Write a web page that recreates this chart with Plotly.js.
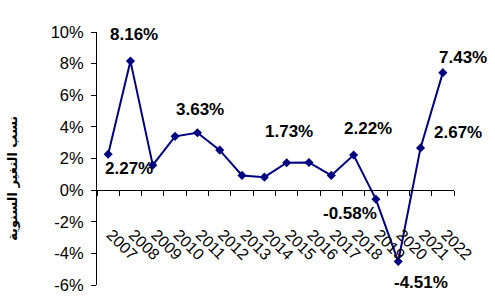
<!DOCTYPE html>
<html>
<head>
<meta charset="utf-8">
<script src="https://cdn.plot.ly/plotly-3.0.1.min.js"></script>
<style>html,body{margin:0;padding:0;background:#fff;}#chart{width:495px;height:308px;}</style>
</head>
<body>
<div id="chart"></div>
<script>
const years = ['2007','2008','2009','2010','2011','2012','2013','2014','2015','2016','2017','2018','2019','2020','2021','2022'];
const rates = [2.27, 8.16, 1.58, 3.40, 3.63, 2.53, 0.93, 0.82, 1.73, 1.75, 0.93, 2.22, -0.58, -4.51, 2.67, 7.43];
const labeledYears = ['2007','2008','2011','2015','2018','2019','2020','2021','2022'];
const yTickVals = [-6, -4, -2, 0, 2, 4, 6, 8, 10];
const yTickText = ['-6%', '-4%', '-2%', '0%', '2%', '4%', '6%', '8%', '10%'];
const yTitle = 'نسب التغير السنوية';

// label offsets (pixels) per labelled year — styling only
const offsets = {
  '2007': [21, 14], '2008': [4, -27], '2011': [3, -23], '2015': [2, -31],
  '2018': [14, -27], '2019': [-26, 14], '2020': [23, 21], '2021': [37, -15], '2022': [20, -15]
};

const annotations = labeledYears.map(y => {
  const i = years.indexOf(y);
  return {
    x: i, y: rates[i], xref: 'x', yref: 'y',
    text: '<b>' + rates[i].toFixed(2) + '%</b>',
    showarrow: false,
    xshift: offsets[y][0], yshift: -offsets[y][1],
    font: {family: 'Liberation Sans, Arial, sans-serif', size: 17, color: '#000'},
    xanchor: 'center', yanchor: 'middle'
  };
});
annotations.push({
  xref: 'paper', yref: 'paper', x: -0.235, y: 0.42,
  text: '<b>' + yTitle + '</b>', textangle: -90, showarrow: false,
  font: {family: 'DejaVu Sans, sans-serif', size: 13, color: '#000'},
  xanchor: 'center', yanchor: 'middle'
});

const trace = {
  x: years, y: rates, type: 'scatter', mode: 'lines+markers',
  line: {color: '#000080', width: 2},
  marker: {symbol: 'diamond', size: 7, color: '#000080'},
  cliponaxis: false, hoverinfo: 'skip'
};

const layout = {
  width: 495, height: 308,
  margin: {l: 97, r: 41, t: 32, b: 23},
  paper_bgcolor: '#fff', plot_bgcolor: '#fff',
  showlegend: false,
  font: {family: 'Liberation Sans, Arial, sans-serif', color: '#000'},
  xaxis: {
    type: 'category', range: [-0.5, 15.5],
    anchor: 'free', position: 0.375,
    showline: true, linecolor: '#000', linewidth: 1,
    ticks: 'outside', ticklen: 5, tickcolor: '#000', tickson: 'boundaries',
    tickangle: 45, ticklabelstandoff: 28, ticklabelshift: 3,
    tickfont: {size: 16, color: '#000'},
    showgrid: false, zeroline: false
  },
  yaxis: {
    range: [-6, 10],
    tickvals: yTickVals, ticktext: yTickText,
    showline: true, linecolor: '#000', linewidth: 1,
    ticks: 'outside', ticklen: 5, tickcolor: '#000',
    tickfont: {size: 16.5, color: '#000'},
    ticklabelstandoff: 4,
    showgrid: false, zeroline: false
  },
  annotations: annotations
};

Plotly.newPlot('chart', [trace], layout, {staticPlot: true, displayModeBar: false});
</script>
</body>
</html>
